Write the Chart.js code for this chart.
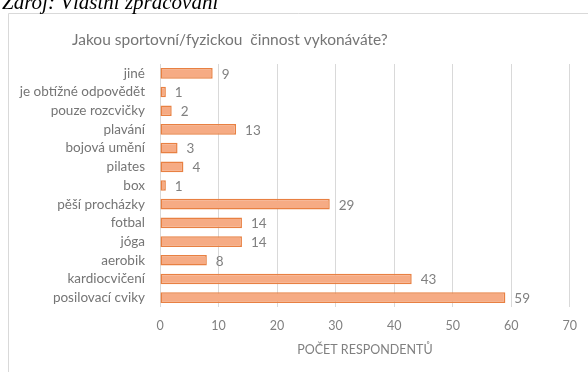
<!DOCTYPE html>
<html lang="cs">
<head>
<meta charset="utf-8">
<title>Sportovní činnost respondentů</title>
<script src="https://cdn.jsdelivr.net/npm/chart.js@4/dist/chart.umd.min.js"></script>
<style>
  html, body { margin: 0; padding: 0; background: #fff; }
  #wrap { position: relative; width: 588px; height: 372px; overflow: hidden; }
  #source {
    position: absolute; left: 2px; top: -10px; margin: 0;
    font: italic 21px "Liberation Serif", "DejaVu Serif", serif;
    color: #000; white-space: nowrap;
  }
  canvas { position: absolute; left: 0; top: 0; }
</style>
</head>
<body>
<div id="wrap">
  <canvas id="chart" width="588" height="372"></canvas>
  <p id="source">Zdroj: Vlastní zpracování</p>
</div>
<script>
// Activities (top to bottom) and number of respondents for each
const categories = [
  "jiné", "je obtížné odpovědět", "pouze rozcvičky", "plavání", "bojová umění",
  "pilates", "box", "pěší procházky", "fotbal", "jóga", "aerobik",
  "kardiocvičení", "posilovací cviky"
];
const respondents = [9, 1, 2, 13, 3, 4, 1, 29, 14, 14, 8, 43, 59];
const xTicks = [0, 10, 20, 30, 40, 50, 60, 70];

const chartTitle = "Jakou sportovní/fyzickou  činnost vykonáváte?";
const axisTitle = "POČET RESPONDENTŮ";

const FONT = "Lato, 'Open Sans', sans-serif";
const TEXT_GREY = "#757575";

// Frame around the chart area and the chart heading
const framePlugin = {
  id: "frame",
  beforeDraw(chart) {
    const ctx = chart.ctx;
    ctx.save();
    ctx.fillStyle = "#fff";
    ctx.fillRect(0, 0, chart.width, chart.height);
    ctx.strokeStyle = "#d9d9d9";
    ctx.lineWidth = 1;
    ctx.beginPath();
    ctx.moveTo(8.5, chart.height + 5);
    ctx.lineTo(8.5, 13.5);
    ctx.lineTo(chart.width + 5, 13.5);
    ctx.stroke();
    ctx.restore();
  },
  afterDraw(chart) {
    const ctx = chart.ctx;
    ctx.save();
    ctx.font = "15.5px " + FONT;
    ctx.fillStyle = TEXT_GREY;
    ctx.textAlign = "left";
    ctx.textBaseline = "middle";
    ctx.fillText(chartTitle, 72, 40);
    ctx.restore();
  }
};

// Value printed just past the end of each bar
const valueLabels = {
  id: "valueLabels",
  afterDatasetsDraw(chart) {
    const ctx = chart.ctx;
    const meta = chart.getDatasetMeta(0);
    ctx.save();
    ctx.font = "13.5px " + FONT;
    ctx.fillStyle = "#808080";
    ctx.textAlign = "left";
    ctx.textBaseline = "middle";
    meta.data.forEach((bar, i) => {
      ctx.fillText(String(respondents[i]), bar.x + 9, bar.y + 1);
    });
    ctx.restore();
  }
};

new Chart(document.getElementById("chart"), {
  type: "bar",
  data: {
    labels: categories,
    datasets: [{
      data: respondents,
      backgroundColor: "rgb(246,171,132)",
      borderColor: "rgb(232,128,66)",
      borderWidth: 1.5,
      borderSkipped: false,
      categoryPercentage: 1,
      barPercentage: 0.57
    }]
  },
  options: {
    indexAxis: "y",
    responsive: false,
    animation: false,
    layout: { padding: { top: 64, right: 17, left: 0, bottom: 0 } },
    plugins: {
      legend: { display: false },
      title: { display: false },
      tooltip: { enabled: false }
    },
    scales: {
      x: {
        min: 0,
        max: 70,
        afterBuildTicks(scale) { scale.ticks = xTicks.map(v => ({ value: v })); },
        afterFit(scale) { scale.height = 65; },
        grid: { color: "#d9d9d9", drawTicks: false, lineWidth: 1 },
        border: { display: false },
        ticks: {
          padding: 11,
          color: "#808080",
          font: { family: FONT, size: 12.5 }
        },
        title: {
          display: true,
          text: axisTitle,
          color: "#808080",
          font: { family: FONT, size: 12.5 },
          padding: { top: 0, bottom: 15 }
        }
      },
      y: {
        afterFit(scale) { scale.width = 160; },
        grid: { display: false, drawTicks: false },
        border: { display: false },
        ticks: {
          padding: 15,
          color: TEXT_GREY,
          font: { family: FONT, size: 13.5 },
          autoSkip: false
        }
      }
    }
  },
  plugins: [framePlugin, valueLabels]
});
</script>
</body>
</html>
